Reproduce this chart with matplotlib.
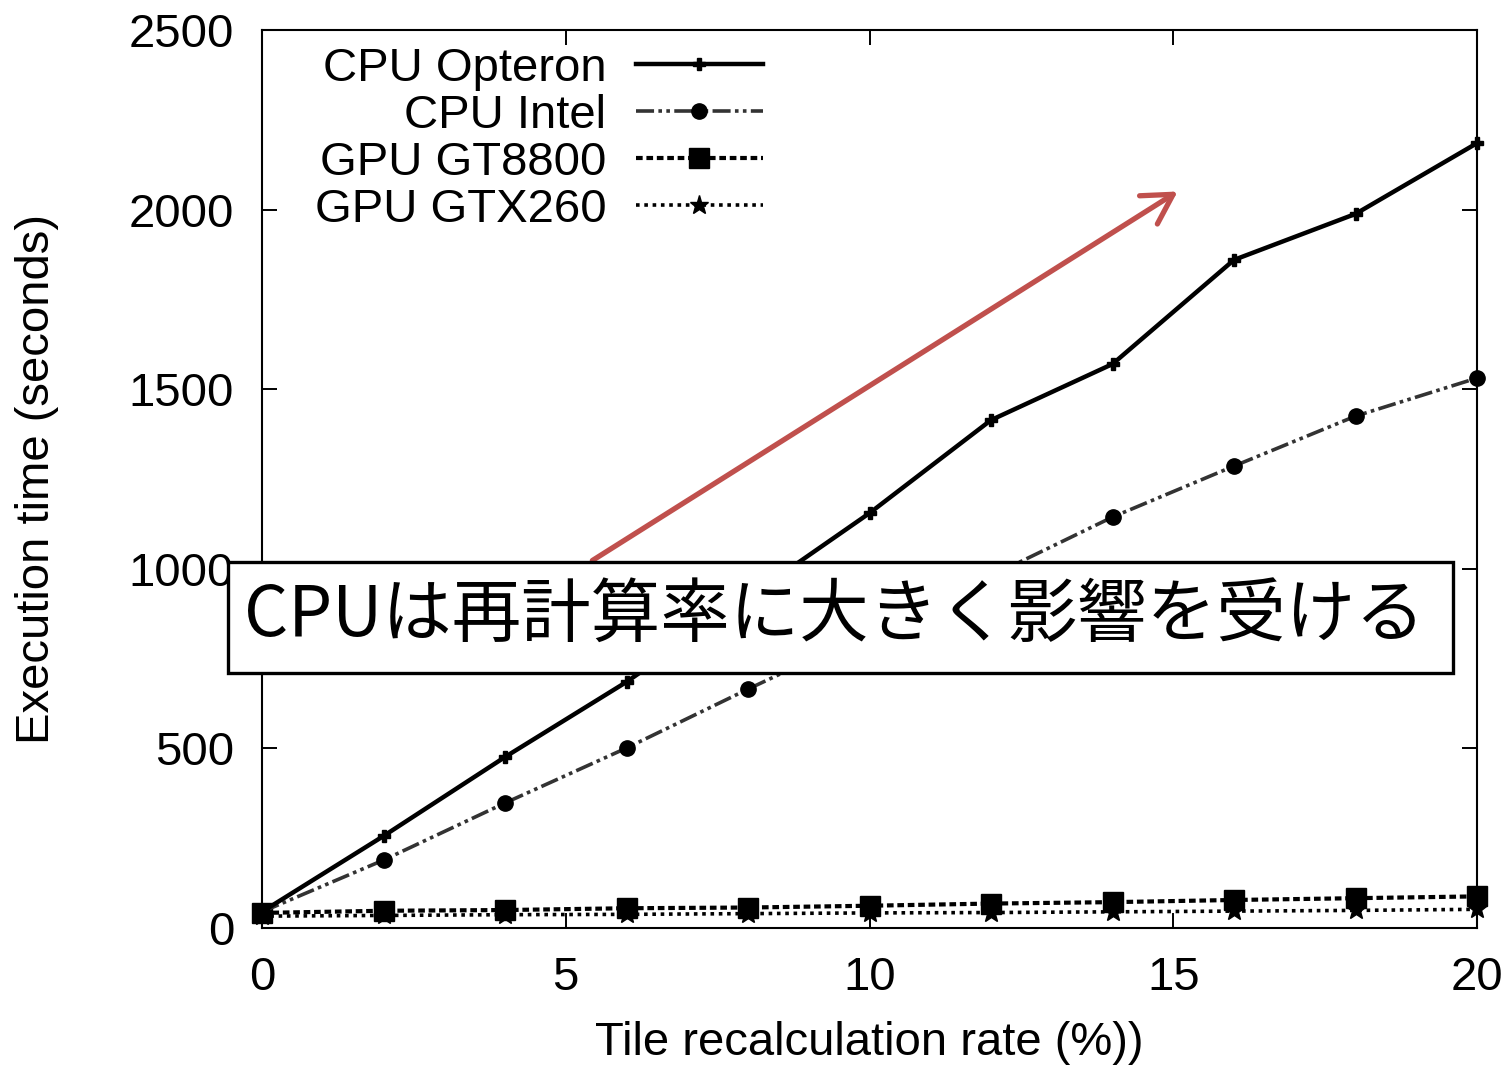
import matplotlib
matplotlib.use('Agg')
import matplotlib.pyplot as plt
from matplotlib.patches import Rectangle, FancyArrowPatch

plt.rcParams['font.family'] = ['Liberation Sans', 'DejaVu Sans']

# recalculation rate (%) and execution times (seconds)
rate = [0, 2, 4, 6, 8, 10, 12, 14, 16, 18, 20]
cpu_opteron = [45, 256, 476, 685, 920, 1155, 1414, 1570, 1860, 1988, 2185]
cpu_intel = [45, 189, 348, 501, 665, 824, 980, 1144, 1286, 1425, 1531]
gpu_gt8800 = [42, 48, 50, 55, 57, 62, 68, 72, 78, 83, 88]
gpu_gtx260 = [33, 35, 37, 38, 40, 42, 43, 45, 47, 49, 52]

x_ticks = [0, 5, 10, 15, 20]
y_ticks = [0, 500, 1000, 1500, 2000, 2500]

W, H = 1511, 1073
fig = plt.figure(figsize=(W / 100, H / 100), dpi=100)
ax = fig.add_axes([262 / W, 1 - 928 / H, (1477 - 262) / W, (928 - 30) / H])

ax.plot(rate, cpu_opteron, color='black', lw=3.2, marker='P', ms=9,
        label='CPU Opteron', clip_on=False, zorder=5)
ax.plot(rate, cpu_intel, color='#333333', lw=2.6,
        linestyle=(0, (5, 1.2, 1, 1.2, 1, 1.2)), marker='o', ms=11,
        markerfacecolor='black', markeredgecolor='black',
        label='CPU Intel', clip_on=False, zorder=4)
ax.plot(rate, gpu_gt8800, color='black', lw=3, linestyle=(0, (1.6, 0.9)),
        marker='s', ms=14, label='GPU GT8800', clip_on=False, zorder=3)
ax.plot(rate, gpu_gtx260, color='black', lw=2.6, linestyle=(0, (1, 1.3)),
        marker='*', ms=14, label='GPU GTX260', clip_on=False, zorder=3)

ax.set_xlim(0, 20)
ax.set_ylim(0, 2500)
ax.set_xticks(x_ticks)
ax.set_yticks(y_ticks)
ax.tick_params(direction='in', length=11, width=1.4, labelsize=34,
               top=True, right=True)
ax.tick_params(axis='x', pad=20)
ax.tick_params(axis='y', pad=20)
for sp in ax.spines.values():
    sp.set_linewidth(1.5)

ax.set_xlabel('Tile recalculation rate (%))', fontsize=34, labelpad=15)
ax.set_ylabel('Execution time (seconds)', fontsize=34, labelpad=50)

leg = ax.legend(loc='upper right', bbox_to_anchor=(763 / W, 1 - 47 / H),
                bbox_transform=fig.transFigure, frameon=False,
                markerfirst=False, numpoints=1, fontsize=34,
                handlelength=2.7, handletextpad=0.62, labelspacing=0.06,
                borderpad=0, borderaxespad=0)

# red trend arrow and the callout box on top of the plot
arrow = FancyArrowPatch((590 / W, 1 - 562 / H), (1180 / W, 1 - 190 / H),
                        transform=fig.transFigure, color='#C0504D', lw=3.8,
                        arrowstyle='->,head_length=0.7,head_width=0.4',
                        mutation_scale=30, zorder=10)
fig.patches.append(arrow)

box = Rectangle((228 / W, 1 - 673 / H), 1225 / W, 111 / H,
                transform=fig.transFigure, facecolor='white',
                edgecolor='black', lw=2.4, zorder=11)
fig.patches.append(box)

fig.text(834 / W, 1 - 617 / H, 'CPUは再計算率に大きく影響を受ける',
         family=['Noto Sans CJK JP', 'DejaVu Sans'], fontsize=50,
         ha='center', va='center', zorder=12)

fig.savefig('out.png', dpi=100)
